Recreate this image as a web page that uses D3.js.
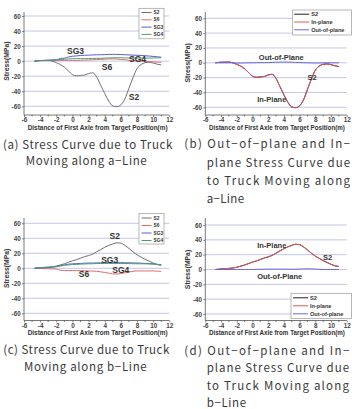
<!DOCTYPE html>
<html>
<head>
<meta charset="utf-8">
<script src="https://cdn.jsdelivr.net/npm/d3@7"></script>
<style>
  html, body { margin: 0; padding: 0; background: #fff; }
  svg { display: block; }
</style>
</head>
<body>
<div id="chart"></div>
<script>
// ===============================
// DATA
// ===============================
const positions = [-4.7, -4, -3, -2.5, -2, -1.5, -1, -0.5, 0, 0.5, 1, 1.5, 2, 2.5, 3, 3.5, 4, 4.5, 5, 5.5, 6, 6.5, 7, 7.5, 8, 8.5, 9, 9.5, 10, 10.5, 11];

// a-Line
const aS2 = [0, 0.8, 1, 0, -2, -4.5, -8, -13, -18, -19.5, -19, -18.5, -16.5, -15.5, -21, -32, -43, -53, -59.5, -60.5, -58, -50, -36, -22, -10, -4.5, -2, -1.5, -2.5, -4, -5];
const aS6 = [0, 0.5, 0.8, 1, 1, 1, 1, 1, 1, 1, 1.2, 1.3, 1.5, 1.8, 2, 2.3, 2.5, 3, 3, 2.8, 2.3, 1.8, 1.2, 0.8, 0.3, 0, -0.3, -0.6, -1, -1.3, -1.5];
const aSG3 = [0, 0.8, 1.2, 1.5, 1.8, 3.5, 4, 5.5, 6.5, 7, 7.5, 7.8, 8, 8.2, 8.5, 8.5, 8.7, 9, 9, 9, 8.8, 8.5, 8.3, 8, 7.8, 7.5, 7.2, 6.8, 6.3, 5.8, 5.3];
const aSG4 = [0, 0.8, 1.2, 1.5, 1.8, 2.2, 2.5, 3, 3.2, 3.3, 3.3, 3.4, 3.5, 3.6, 3.7, 3.8, 4, 4.2, 4.5, 4.5, 4.5, 4.3, 4.2, 4.1, 4, 4, 4, 4.1, 4.2, 4.3, 4.5];
const aOut = [0, 0, 0, 0, -0.3, -0.3, -0.2, 0, 0, 0.1, 0.2, 0.2, 0.3, 0.5, 0.8, 0.9, 1, 1, 0.8, 0.5, 0.3, 0.1, 0, -0.2, -0.3, -0.2, 0, 0, 0, 0, 0];

// b-Line
const bS2 = [0, 0.8, 1.5, 2, 3, 4.5, 6, 8, 10, 11.5, 13.5, 15.5, 17, 19, 22, 25, 28, 30.5, 32.5, 34, 33.5, 30.5, 26.5, 22, 18, 15, 12, 9.5, 7, 5, 4];
const bS6 = [0, -0.3, -0.5, -0.8, -1, -2.5, -3, -3, -3, -3, -3.2, -3.3, -3.5, -3.7, -4, -4.7, -5.5, -6.5, -7.5, -7.5, -7, -6, -5, -4, -3.5, -3.5, -3.5, -3.5, -3.5, -3.8, -4];
const bSG3 = [0, 0.5, 1, 1.5, 2, 3.5, 4.5, 5.5, 6, 6.2, 6.5, 6.8, 7, 7.1, 7.2, 7.3, 7.5, 7.5, 7.5, 7.5, 7.5, 7.4, 7.3, 7.2, 7, 6.8, 6.5, 6.2, 6, 5.3, 4.5];
const bSG4 = [0, 1, 1.5, 2, 2.5, 3, 4, 4.5, 5, 5.2, 5.5, 5.8, 6, 6.1, 6.3, 6.4, 6.5, 6.5, 6.5, 6.5, 6.5, 6.4, 6.3, 6.1, 6, 6, 6, 5.8, 5.5, 5.2, 5];
const bOut = [0, 0, 0, 0, 0, 0, 0, 0, 0, 0.2, 0.3, 0.4, 0.5, 0.5, 0.5, 0.5, 0.5, 0.4, 0.4, 0.5, 0.6, 0.8, 1, 0.8, 0.5, 0.3, 0, 0, 0, 0, 0];

const xTicks = [-6, -4, -2, 0, 2, 4, 6, 8, 10, 12];
const xMinorTicks = [-5, -3, -1, 1, 3, 5, 7, 9, 11];
const yTicks = [60, 40, 20, 0, -20, -40, -60];

const gaugeNames = ["S2", "S6", "SG3", "SG4"];
const planeNames = ["S2", "In-plane", "Out-of-plane"];

const xTitle = "Distance of First Axle from Target Position(m)";
const yTitle = "Stress(MPa)";

const captionA = ["(a) Stress Curve due to Truck", "Moving along a\u2212Line"];
const captionB = ["(b) Out\u2212of\u2212plane  and  In\u2212", "plane  Stress  Curve  due", "to  Truck  Moving  along", "a\u2212Line"];
const captionC = ["(c) Stress Curve due to Truck", "Moving along b\u2212Line"];
const captionD = ["(d) Out\u2212of\u2212plane  and  In\u2212", "plane  Stress  Curve  due", "to  Truck  Moving  along", "b\u2212Line"];

// ===============================
// SVG
// ===============================
const W = 352, H = 409;
const svg = d3.select("#chart").append("svg").attr("width", W).attr("height", H);
const labelFont = "'Liberation Sans', Arial, sans-serif";

const gaugeColors = ["#707070", "#e06a6a", "#5a5ad6", "#4e9e6c"];
const planeColors = ["#222222", "#e05858", "#6868e0"];

function drawPanel(p) {
  const x = d3.scaleLinear().domain([-6, 12]).range([p.left, p.right]);
  const y = d3.scaleLinear().domain([-60, 60]).range([p.yLow, p.yHigh]);
  const g = svg.append("g");

  // gridlines
  g.selectAll(".grid")
    .data(yTicks)
    .join("line")
    .attr("x1", p.left)
    .attr("x2", p.right)
    .attr("y1", (d) => y(d))
    .attr("y2", (d) => y(d))
    .attr("stroke", "#b6b6e6")
    .attr("stroke-width", 0.8);

  // x axis
  const xa = g.append("g")
    .attr("transform", `translate(0,${p.axisY})`)
    .call(d3.axisBottom(x).tickValues(xTicks).tickSize(2).tickPadding(1).tickFormat((d) => String(d)));
  xa.append("g").selectAll("line")
    .data(xMinorTicks)
    .join("line")
    .attr("x1", (d) => x(d))
    .attr("x2", (d) => x(d))
    .attr("y2", 1.3)
    .attr("stroke", "#555");
  xa.select(".domain").attr("d", `M${p.left},0H${p.right}`);

  // y axis
  const ya = g.append("g")
    .attr("transform", `translate(${p.left},0)`)
    .call(d3.axisLeft(y).tickValues(yTicks).tickSize(2).tickPadding(1.3).tickFormat((d) => String(d)));
  ya.select(".domain").attr("d", `M0,${p.top}V${p.axisY}`);

  [xa, ya].forEach((a) => {
    a.select(".domain").attr("stroke", "#555").attr("stroke-width", 0.8);
    a.selectAll(".tick line").attr("stroke", "#555").attr("stroke-width", 0.7);
    a.selectAll(".tick text")
      .attr("font-family", labelFont)
      .attr("font-size", "6.3px")
      .attr("font-weight", "bold")
      .attr("fill", "#444");
  });

  // x title, squeezed horizontally to fit the plot width
  const xt = g.append("text")
    .attr("text-anchor", "middle")
    .attr("font-family", labelFont)
    .attr("font-size", "7px")
    .attr("font-weight", "bold")
    .attr("fill", "#333")
    .text(xTitle);
  const natural = xt.node().getComputedTextLength();
  const k = Math.min(1, (p.right - p.left - 5) / natural);
  xt.attr("transform", `translate(${(p.left + p.right) / 2 + 1},${p.axisY + 14.5}) scale(${k},1)`);

  g.append("text")
    .attr("transform", `translate(${p.left - 15},${y(0)}) rotate(-90)`)
    .attr("text-anchor", "middle")
    .attr("font-family", labelFont)
    .attr("font-size", "6.8px")
    .attr("font-weight", "bold")
    .attr("fill", "#333")
    .text(yTitle);

  // lines
  const line = d3.line()
    .x((d) => x(d[0]))
    .y((d) => y(d[1]))
    .curve(d3.curveMonotoneX);

  p.series.forEach((s) => {
    g.append("path")
      .datum(positions.map((xv, i) => [xv, s.values[i]]))
      .attr("fill", "none")
      .attr("stroke", s.color)
      .attr("stroke-width", 1)
      .attr("d", line);
  });

  // annotations
  p.notes.forEach((n) => {
    g.append("text")
      .attr("x", n.x)
      .attr("y", n.y)
      .attr("text-anchor", "middle")
      .attr("dominant-baseline", "central")
      .attr("font-family", labelFont)
      .attr("font-size", n.size + "px")
      .attr("font-weight", "bold")
      .attr("fill", "#333")
      .text(n.text);
  });

  // legend
  const L = p.legend;
  const lg = g.append("g");
  lg.append("rect")
    .attr("x", L.x)
    .attr("y", L.y)
    .attr("width", L.w)
    .attr("height", L.h)
    .attr("fill", "#fff")
    .attr("stroke", "#999")
    .attr("stroke-width", 0.7);
  p.series.forEach((s, i) => {
    const yy = L.y + L.first + i * L.step;
    lg.append("line")
      .attr("x1", L.x + L.pad)
      .attr("x2", L.x + L.pad + L.len)
      .attr("y1", yy)
      .attr("y2", yy)
      .attr("stroke", s.color)
      .attr("stroke-width", 1);
    lg.append("text")
      .attr("x", L.x + L.pad + L.len + 2)
      .attr("y", yy)
      .attr("dominant-baseline", "central")
      .attr("font-family", labelFont)
      .attr("font-size", L.font + "px")
      .attr("font-weight", "bold")
      .attr("fill", "#333")
      .text(s.name);
  });
}

function drawCaption(lines, starts, ends, baselines) {
  lines.forEach((t, i) => {
    svg.append("text")
      .attr("x", starts[i])
      .attr("y", baselines[i])
      .attr("font-family", "'Noto Sans CJK KR', 'Noto Sans', sans-serif")
      .attr("font-size", "11.5px")
      .attr("fill", "#3a3a3a")
      .attr("textLength", ends[i] - starts[i])
      .attr("lengthAdjust", "spacing")
      .text(t);
  });
}

// ===============================
// PANELS
// ===============================
drawPanel({
  left: 24, right: 169.3, yHigh: 16, yLow: 106.3, axisY: 115, top: 12,
  series: [aS2, aS6, aSG3, aSG4].map((v, i) => ({ name: gaugeNames[i], values: v, color: gaugeColors[i] })),
  legend: { x: 139, y: 8.3, w: 25, h: 30.5, pad: 2.5, len: 10, first: 4.2, step: 7.3, font: 4.8 },
  notes: [
    { text: "SG3", x: 75.5, y: 50.5, size: 8.5 },
    { text: "SG4", x: 137.5, y: 59.3, size: 8.5 },
    { text: "S6", x: 107, y: 67.3, size: 8.5 },
    { text: "S2", x: 134, y: 96.5, size: 8.5 },
  ],
});

drawPanel({
  left: 205.3, right: 346.7, yHigh: 18.3, yLow: 107.3, axisY: 115, top: 12,
  series: [aS2, aS2, aOut].map((v, i) => ({ name: planeNames[i], values: v, color: planeColors[i] })),
  legend: { x: 292.7, y: 10, w: 58.8, h: 25, pad: 1.5, len: 15, first: 4.2, step: 7.8, font: 5.6 },
  notes: [
    { text: "Out-of-Plane", x: 281.3, y: 57.3, size: 7.5 },
    { text: "S2", x: 312, y: 77.3, size: 7.5 },
    { text: "In-Plane", x: 271.8, y: 99.3, size: 7.5 },
  ],
});

drawPanel({
  left: 24, right: 169.3, yHigh: 223.3, yLow: 313.3, axisY: 320.5, top: 218,
  series: [bS2, bS6, bSG3, bSG4].map((v, i) => ({ name: gaugeNames[i], values: v, color: gaugeColors[i] })),
  legend: { x: 139, y: 213.5, w: 25, h: 30.5, pad: 2.5, len: 10, first: 4.5, step: 7.5, font: 4.8 },
  notes: [
    { text: "S2", x: 114.7, y: 235.7, size: 8.5 },
    { text: "SG3", x: 109.7, y: 260, size: 8.5 },
    { text: "SG4", x: 120.8, y: 270, size: 8.5 },
    { text: "S6", x: 84, y: 274.3, size: 8.5 },
  ],
});

drawPanel({
  left: 205.3, right: 346.7, yHigh: 225, yLow: 314, axisY: 320.5, top: 218,
  series: [bS2, bS2, bOut].map((v, i) => ({ name: planeNames[i], values: v, color: planeColors[i] })),
  legend: { x: 291, y: 293.3, w: 60.5, h: 25.4, pad: 2, len: 15, first: 4.5, step: 8, font: 5.6 },
  notes: [
    { text: "In-Plane", x: 271.8, y: 245.7, size: 7.5 },
    { text: "S2", x: 327.7, y: 257.3, size: 7.5 },
    { text: "Out-of-Plane", x: 279.7, y: 276, size: 7.5 },
  ],
});

// ===============================
// CAPTIONS
// ===============================
drawCaption(captionA, [3, 25.7], [172.3, 146.7], [148.5, 165.2]);
drawCaption(captionB, [184.3, 206.7, 206.7, 206.7], [350, 350, 350, 244], [148, 166.5, 184.5, 202.5]);
drawCaption(captionC, [3.3, 24], [169.3, 146.7], [353.8, 371.2]);
drawCaption(captionD, [184.3, 206.7, 206.7, 206.7], [349.3, 349, 349, 246], [354.5, 372, 389.6, 407]);
</script>
</body>
</html>
